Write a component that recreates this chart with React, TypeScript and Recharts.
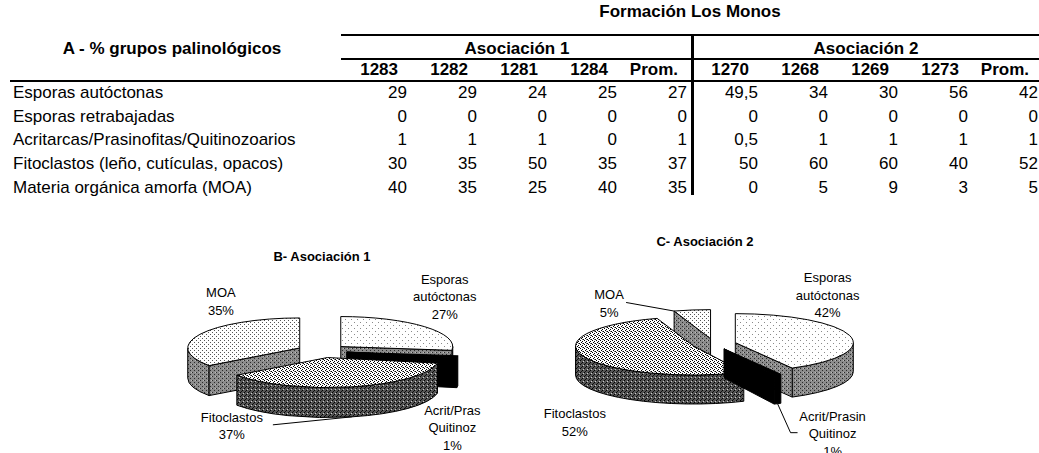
import React from "react";
import { PieChart, Pie } from "recharts";

const FONT = '"Liberation Sans", Arial, sans-serif';

// table data
const groups = [
  "Esporas autóctonas",
  "Esporas retrabajadas",
  "Acritarcas/Prasinofitas/Quitinozoarios",
  "Fitoclastos (leño, cutículas, opacos)",
  "Materia orgánica amorfa (MOA)",
];
const samples1 = ["1283", "1282", "1281", "1284", "Prom."];
const samples2 = ["1270", "1268", "1269", "1273", "Prom."];
const asoc1 = [
  [29, 29, 24, 25, 27],
  [0, 0, 0, 0, 0],
  [1, 1, 1, 0, 1],
  [30, 35, 50, 35, 37],
  [40, 35, 25, 40, 35],
];
const asoc2 = [
  [49.5, 34, 30, 56, 42],
  [0, 0, 0, 0, 0],
  [0.5, 1, 1, 1, 1],
  [50, 60, 60, 40, 52],
  [0, 5, 9, 3, 5],
];

// pie data (the Prom. columns)
const pieNamesB = ["Esporas autóctonas", "Esporas retrabajadas", "Acrit/Pras Quitinoz", "Fitoclastos", "MOA"];
const pieNamesC = ["Esporas autóctonas", "Esporas retrabajadas", "Acrit/Prasin Quitinoz", "Fitoclastos", "MOA"];
const promB = [27, 0, 1, 37, 35];
const promC = [42, 0, 1, 52, 5];

// look of the slices, by category index
const sliceFill = [
  { top: "url(#pEspTop)", side: "url(#pGraySide)" },
  { top: "#fff", side: "#999" },
  { top: "#000", side: "#000" },
  { top: "url(#pFitoTop)", side: "url(#pFitoSide)" },
  { top: "url(#pMoaTop)", side: "url(#pGraySide)" },
];

const RAD = Math.PI / 180;
type Geo = { tilt: number; depth: number; explode: number };
type Leader = { at: "midBottom" | "startTop"; via: number[][] };

const idxOf = (p: any) => p.payload?.idx ?? p.idx ?? p.index;

function frame(p: any, g: Geo) {
  const rx = p.outerRadius;
  const ry = rx * g.tilt;
  const mid = (p.startAngle + p.endAngle) / 2;
  const ox = p.cx + g.explode * Math.cos(mid * RAD);
  const oy = p.cy - g.explode * Math.sin(mid * RAD) * g.tilt;
  const pt = (a: number, dz = 0): [number, number] => [
    ox + rx * Math.cos(a * RAD),
    oy - ry * Math.sin(a * RAD) + dz,
  ];
  return { rx, ry, mid, ox, oy, pt };
}

function renderSlice(p: any, g: Geo) {
  const s = Math.max(p.startAngle, p.endAngle);
  const e = Math.min(p.startAngle, p.endAngle);
  if (s - e <= 0.01) return <g />;
  const f = frame(p, g);
  const fill = sliceFill[idxOf(p)];
  const P = (a: number, dz = 0) => f.pt(a, dz).join(" ");
  const d = g.depth;
  const walls: string[] = [];
  for (let n = Math.floor(e / 360) - 1; n <= Math.ceil(s / 360) + 1; n++) {
    const lo = Math.max(e, -180 + 360 * n);
    const hi = Math.min(s, 360 * n);
    if (hi - lo > 0.01) {
      walls.push(
        `M ${P(hi)} A ${f.rx} ${f.ry} 0 0 1 ${P(lo)} L ${P(lo, d)} A ${f.rx} ${f.ry} 0 0 0 ${P(hi, d)} Z`
      );
    }
  }
  const face = (a: number) =>
    `M ${f.ox} ${f.oy} L ${P(a)} L ${P(a, d)} L ${f.ox} ${f.oy + d} Z`;
  const faces: string[] = [];
  if (Math.cos(s * RAD) < -0.001) faces.push(face(s));
  if (Math.cos(e * RAD) > 0.001) faces.push(face(e));
  const large = s - e > 180 ? 1 : 0;
  const top = `M ${f.ox} ${f.oy} L ${P(s)} A ${f.rx} ${f.ry} 0 ${large} 1 ${P(e)} Z`;
  return (
    <g>
      {walls.map((w, i) => (
        <path key={"w" + i} d={w} fill={fill.side} stroke="#000" strokeWidth={1} />
      ))}
      {faces.map((w, i) => (
        <path key={"f" + i} d={w} fill={fill.side} stroke="#000" strokeWidth={1} />
      ))}
      <path d={top} fill={fill.top} stroke="#000" strokeWidth={1} />
    </g>
  );
}

function renderLabel(p: any, g: Geo, names: string[], pos: number[][], leaders: Record<number, Leader>) {
  const i = idxOf(p);
  if (!p.value) return <g />;
  const f = frame(p, g);
  const [ax, ay] = f.pt(f.mid);
  const bx = ax + pos[i][0];
  const by = ay + pos[i][1];
  const lines = [...names[i].split(" "), `${Math.round(p.percent * 100)}%`];
  const lh = 17.5;
  const y0 = by - ((lines.length - 1) / 2) * lh;
  const ld = leaders[i];
  let line = null;
  if (ld) {
    const start =
      ld.at === "midBottom" ? f.pt(f.mid, g.depth) : f.pt(Math.max(p.startAngle, p.endAngle));
    const pts = [start, ...ld.via.map((v) => [bx + v[0], by + v[1]])];
    line = <polyline points={pts.map((q) => q.join(",")).join(" ")} fill="none" stroke="#000" strokeWidth={1} />;
  }
  return (
    <g>
      {line}
      {lines.map((t, k) => (
        <text
          key={k}
          x={bx}
          y={y0 + k * lh}
          textAnchor="middle"
          dominantBaseline="central"
          fontFamily={FONT}
          fontSize={13}
          fill="#000"
        >
          {t}
        </text>
      ))}
    </g>
  );
}

type PieBlockProps = {
  title: string;
  titleX: number;
  titleY: number;
  left: number;
  top: number;
  cx: number;
  cy: number;
  rx: number;
  geo: Geo;
  names: string[];
  values: number[];
  order: number[];
  labelPos: number[][];
  leaders: Record<number, Leader>;
};

function PieBlock(b: PieBlockProps) {
  const data = b.names.map((name, i) => ({ name, value: b.values[i], idx: i }));
  const common = {
    data,
    dataKey: "value",
    nameKey: "name",
    cx: b.cx,
    cy: b.cy,
    outerRadius: b.rx,
    startAngle: 90,
    endAngle: -270,
    fill: "transparent",
    stroke: "none",
    isAnimationActive: false,
    labelLine: false,
  };
  return (
    <>
      <div
        style={{
          position: "absolute",
          left: b.titleX - 100,
          top: b.titleY - 8,
          width: 200,
          textAlign: "center",
          fontWeight: "bold",
          fontSize: 13,
          lineHeight: "16px",
        }}
      >
        {b.title}
      </div>
      <div style={{ position: "absolute", left: b.left, top: b.top }}>
        <PieChart width={380} height={213} margin={{ top: 0, right: 0, bottom: 0, left: 0 }}>
          {b.order.map((k) => (
            <Pie
              key={"s" + k}
              {...common}
              label={(p: any) => (idxOf(p) === k ? renderSlice(p, b.geo) : <g />)}
            />
          ))}
          <Pie
            {...common}
            label={(p: any) => renderLabel(p, b.geo, b.names, b.labelPos, b.leaders)}
          />
        </PieChart>
      </div>
    </>
  );
}

function PatternDefs() {
  return (
    <svg width={0} height={0} style={{ position: "absolute" }}>
      <defs>
        <pattern id="pEspTop" width="6" height="6" patternUnits="userSpaceOnUse">
          <rect width="6" height="6" fill="#fff" />
          <rect x="1" y="1" width="1" height="1" fill="#8a8a8a" />
          <rect x="4" y="4" width="1" height="1" fill="#8a8a8a" />
        </pattern>
        <pattern id="pMoaTop" width="4" height="4" patternUnits="userSpaceOnUse">
          <rect width="4" height="4" fill="#fff" />
          <rect x="0" y="0" width="1" height="1" fill="#555" />
          <rect x="2" y="2" width="1" height="1" fill="#555" />
        </pattern>
        <pattern id="pGraySide" width="4" height="4" patternUnits="userSpaceOnUse">
          <rect width="4" height="4" fill="#8c8c8c" />
          <rect x="0" y="0" width="1" height="1" fill="#2a2a2a" />
          <rect x="2" y="2" width="1" height="1" fill="#2a2a2a" />
          <rect x="3" y="0" width="1" height="1" fill="#bbb" />
        </pattern>
        <pattern id="pFitoTop" width="4" height="4" patternUnits="userSpaceOnUse">
          <rect width="4" height="4" fill="#fff" />
          <rect x="0" y="0" width="1" height="1" fill="#000" />
          <rect x="2" y="1" width="1" height="1" fill="#000" />
          <rect x="1" y="2" width="1" height="1" fill="#000" />
          <rect x="3" y="3" width="1" height="1" fill="#000" />
          <rect x="2" y="3" width="1" height="1" fill="#777" />
        </pattern>
        <pattern id="pFitoSide" width="4" height="4" patternUnits="userSpaceOnUse">
          <rect width="4" height="4" fill="#555" />
          <rect x="0" y="0" width="1" height="1" fill="#000" />
          <rect x="2" y="2" width="1" height="1" fill="#000" />
          <rect x="1" y="3" width="1" height="1" fill="#111" />
          <rect x="3" y="1" width="1" height="1" fill="#ccc" />
        </pattern>
      </defs>
    </svg>
  );
}

const fmt = (v: number) => String(v).replace(".", ",");

function Txt({ x, y, align, bold, children }: any) {
  const w = 400;
  const left = align === "right" ? x - w : align === "center" ? x - w / 2 : x;
  return (
    <div
      style={{
        position: "absolute",
        left,
        top: y - 10,
        width: w,
        height: 20,
        lineHeight: "20px",
        textAlign: align || "left",
        fontWeight: bold ? "bold" : "normal",
        fontSize: 17,
        whiteSpace: "nowrap",
      }}
    >
      {children}
    </div>
  );
}

const Rule = ({ x, y, w, h }: any) => (
  <div style={{ position: "absolute", left: x, top: y, width: w, height: h, background: "#000" }} />
);

function DataTable() {
  const right1 = samples1.map((_, i) => 407 + 70 * i);
  const right2 = samples2.map((_, i) => 758 + 70 * i);
  const rowY = groups.map((_, i) => 93 + 23.7 * i);
  return (
    <>
      <Txt x={690} y={12} align="center" bold>Formación Los Monos</Txt>
      <Rule x={341} y={34} w={698} h={2} />
      <Txt x={172} y={49} align="center" bold>A - % grupos palinológicos</Txt>
      <Txt x={517} y={49} align="center" bold>Asociación 1</Txt>
      <Txt x={866} y={49} align="center" bold>Asociación 2</Txt>
      <Rule x={341} y={58} w={698} h={2} />
      {samples1.map((s, i) => (
        <Txt key={"h1" + i} x={right1[i] - 9} y={70} align="right" bold>{s}</Txt>
      ))}
      {samples2.map((s, i) => (
        <Txt key={"h2" + i} x={right2[i] - 9} y={70} align="right" bold>{s}</Txt>
      ))}
      <Rule x={10} y={80} w={1029} h={2} />
      <Rule x={691} y={35} w={3} h={160} />
      {groups.map((g, r) => (
        <React.Fragment key={g}>
          <Txt x={13} y={rowY[r]}>{g}</Txt>
          {asoc1[r].map((v, c) => (
            <Txt key={"a" + c} x={right1[c]} y={rowY[r]} align="right">{fmt(v)}</Txt>
          ))}
          {asoc2[r].map((v, c) => (
            <Txt key={"b" + c} x={right2[c]} y={rowY[r]} align="right">{fmt(v)}</Txt>
          ))}
        </React.Fragment>
      ))}
    </>
  );
}

export default function App() {
  return (
    <div
      style={{
        position: "relative",
        width: 1039,
        height: 453,
        overflow: "hidden",
        background: "#fff",
        color: "#000",
        fontFamily: FONT,
      }}
    >
      <style>{"body{margin:0}"}</style>
      <PatternDefs />
      <DataTable />
      <PieBlock
        title="B- Asociación 1"
        titleX={322}
        titleY={257}
        left={140}
        top={240}
        cx={182}
        cy={111}
        rx={112}
        geo={{ tilt: 0.268, depth: 30, explode: 25 }}
        names={pieNamesB}
        values={promB}
        order={[0, 4, 2, 3]}
        labelPos={[[20, -30], [0, 0], [-5, 71], [-120, 39], [21, -33]]}
        leaders={{ 3: { at: "midBottom", via: [[41, -1]] } }}
      />
      <PieBlock
        title="C- Asociación 2"
        titleX={705}
        titleY={242}
        left={520}
        top={240}
        cx={194}
        cy={104}
        rx={118}
        geo={{ tilt: 0.246, depth: 29, explode: 22 }}
        names={pieNamesC}
        values={promC}
        order={[4, 0, 3, 2]}
        labelPos={[[-22, -40], [0, 0], [55, 59], [-9, 66], [-83, -6.5]]}
        leaders={{
          4: { at: "startTop", via: [[17, -1]] },
          2: { at: "midBottom", via: [[-42, -1], [-35, -1]] },
        }}
      />
    </div>
  );
}
